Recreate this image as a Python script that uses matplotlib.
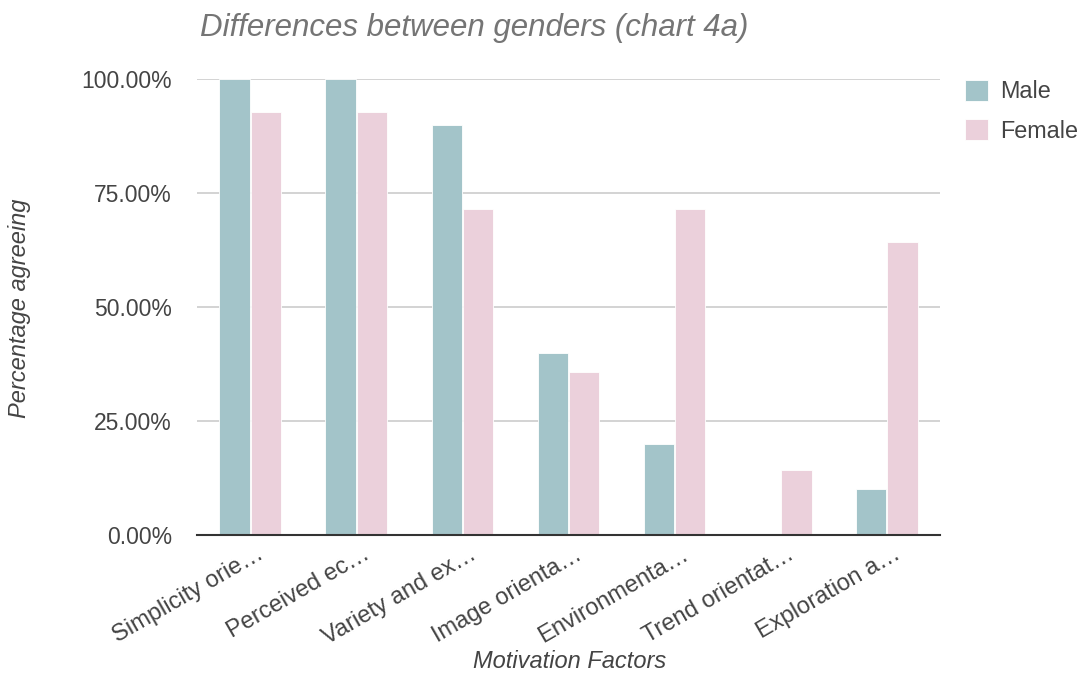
import matplotlib
matplotlib.use("Agg")
import matplotlib.pyplot as plt
import numpy as np
from matplotlib.ticker import FuncFormatter

categories = ["Simplicity orie…", "Perceived ec…", "Variety and ex…", "Image orienta…",
              "Environmenta…", "Trend orientat…", "Exploration a…"]
male = [100.0, 100.0, 90.0, 40.0, 20.0, 0.0, 10.0]
female = [92.86, 92.86, 71.43, 35.71, 71.43, 14.29, 64.29]
series_names = ["Male", "Female"]
yticks = [0, 25, 50, 75, 100]

plt.rcParams["font.family"] = ["Liberation Sans", "DejaVu Sans"]
text_color = "#444444"
W, H = 1084, 675

fig = plt.figure(figsize=(W / 100, H / 100), dpi=100)
ax = fig.add_axes([197 / W, 1 - 535 / H, 743 / W, 456 / H])

x = np.arange(len(categories))
w = 0.285
ax.bar(x - w / 2 - 0.005, male, width=w, color="#a3c4c9", edgecolor="white", linewidth=0.6,
       label=series_names[0], zorder=3)
ax.bar(x + w / 2 + 0.005, female, width=w, color="#ebd0db", edgecolor="white", linewidth=0.6,
       label=series_names[1], zorder=3)

ax.set_xlim(-0.5, len(categories) - 0.5)
ax.set_ylim(0, 100)
ax.set_yticks(yticks)
ax.yaxis.set_major_formatter(FuncFormatter(lambda v, p: f"{v:.2f}%"))
ax.grid(axis="y", color="#cccccc", linewidth=1.2, zorder=0)
for s in ["top", "right", "left"]:
    ax.spines[s].set_visible(False)
ax.spines["bottom"].set_color("#333333")
ax.spines["bottom"].set_linewidth(1.5)
ax.spines["bottom"].set_zorder(4)
ax.tick_params(axis="both", length=0, colors=text_color, labelsize=16.5)
ax.tick_params(axis="y", pad=18)
ax.set_xticks(x + 0.06)
ax.set_xticklabels(categories, rotation=30, ha="right", rotation_mode="anchor", fontsize=17)
ax.tick_params(axis="x", pad=6)

fig.text(20 / W, 1 - 308 / H, "Percentage agreeing", fontsize=17, style="italic",
         color=text_color, rotation=90, ha="center", va="center")
fig.text(570 / W, 1 - 662 / H, "Motivation Factors", fontsize=17, style="italic",
         color=text_color, ha="center", va="center")
fig.text(200 / W, 1 - 28 / H, "Differences between genders (chart 4a)", fontsize=22.5,
         style="italic", color="#757575", va="center", ha="left")

leg = ax.legend(loc="upper left", bbox_to_anchor=(960 / W, 1 - 75 / H),
                bbox_transform=fig.transFigure, frameon=False, fontsize=16.8,
                handlelength=1.0, handleheight=1.05, labelspacing=0.66, handletextpad=0.5,
                borderaxespad=0, borderpad=0.2)
for t in leg.get_texts():
    t.set_color(text_color)

fig.savefig("out.png", dpi=100)
